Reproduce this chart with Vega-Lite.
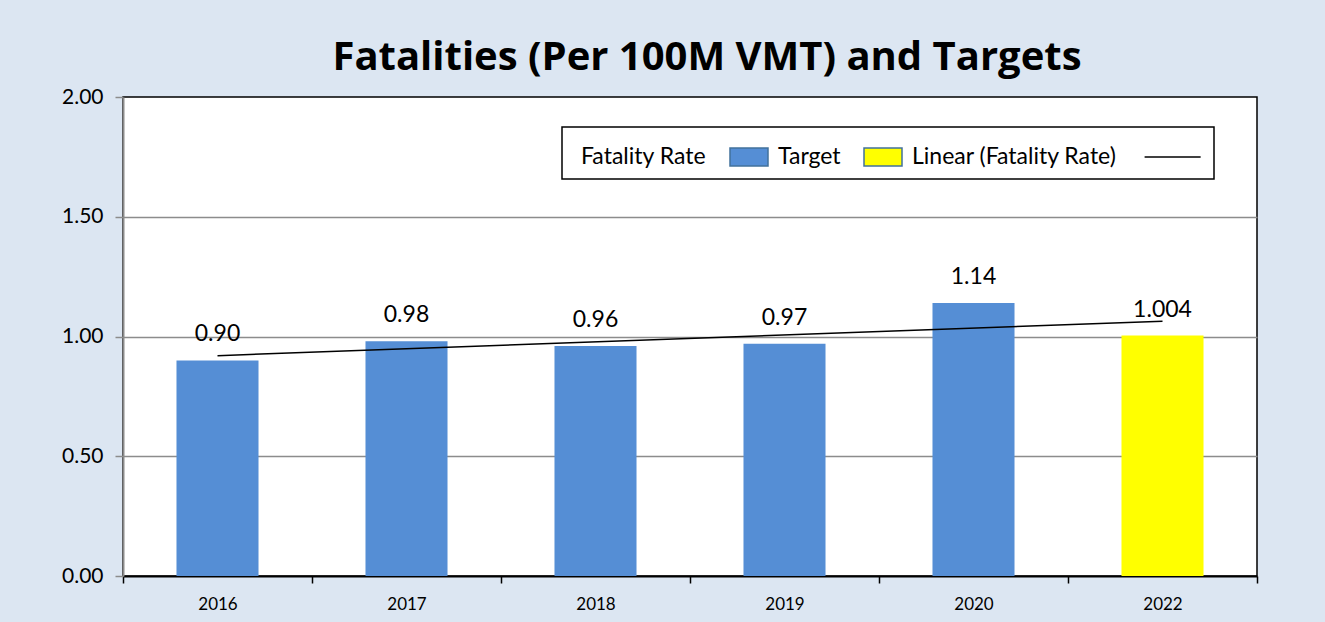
{
  "$schema": "https://vega.github.io/schema/vega-lite/v6.json",
  "width": 1134,
  "height": 479,
  "autosize": {"type": "none"},
  "padding": {"left": 123, "top": 97, "right": 68, "bottom": 46},
  "background": "#dce6f2",
  "config": {
    "view": {"stroke": "#000000", "strokeWidth": 1.5, "fill": "#ffffff"},
    "font": "Lato"
  },
  "title": {
    "text": "Fatalities (Per 100M VMT) and Targets",
    "fontSize": 40,
    "fontWeight": "bold",
    "font": "Open Sans",
    "color": "#000000",
    "anchor": "middle",
    "dx": 17,
    "offset": 8
  },
  "datasets": {
    "bars": [
      {"year": "2016", "value": 0.90, "label": "0.90", "series": "Target"},
      {"year": "2017", "value": 0.98, "label": "0.98", "series": "Target"},
      {"year": "2018", "value": 0.96, "label": "0.96", "series": "Target"},
      {"year": "2019", "value": 0.97, "label": "0.97", "series": "Target"},
      {"year": "2020", "value": 1.14, "label": "1.14", "series": "Target"},
      {"year": "2022", "value": 1.004, "label": "1.004", "series": "Linear (Fatality Rate)"}
    ],
    "trend": [
      {"year": "2016", "trend": 0.92},
      {"year": "2022", "trend": 1.064}
    ]
  },
  "encoding": {
    "x": {
      "field": "year",
      "type": "nominal",
      "scale": {"type": "band", "paddingInner": 0, "paddingOuter": 0, "domain": ["2016", "2017", "2018", "2019", "2020", "2022"]},
      "axis": {
        "title": null,
        "labelAngle": 0,
        "labelFontSize": 17,
        "labelColor": "#000000",
        "labelPadding": 13,
        "tickBand": "extent",
        "tickSize": 7,
        "tickColor": "#000000",
        "tickWidth": 1.5,
        "domainColor": "#000000",
        "domainWidth": 2,
        "grid": false
      }
    }
  },
  "layer": [
    {
      "data": {"name": "bars"},
      "mark": {"type": "bar", "width": {"band": 0.434}},
      "encoding": {
        "y": {
          "field": "value",
          "type": "quantitative",
          "scale": {"domain": [0, 2], "nice": false},
          "axis": {
            "title": null,
            "values": [0, 0.5, 1, 1.5, 2],
            "format": ".2f",
            "labelFontSize": 21,
            "labelColor": "#000000",
            "labelPadding": 12,
            "tickSize": 8,
            "tickColor": "#8c8c8c",
            "tickWidth": 1.5,
            "domainColor": "#8c8c8c",
            "domainWidth": 2,
            "grid": true,
            "gridWidth": 1.5,
            "gridColor": {"condition": {"test": "datum.value == 0 || datum.value == 2", "value": "transparent"}, "value": "#8c8c8c"}
          }
        },
        "color": {
          "field": "series",
          "type": "nominal",
          "scale": {
            "domain": ["Fatality Rate", "Target", "Linear (Fatality Rate)", "_line"],
            "range": ["transparent", "#558ed5", "#ffff00", "#000000"]
          },
          "legend": {
            "orient": "none",
            "legendX": 439,
            "legendY": 30,
            "direction": "horizontal",
            "title": null,
            "fillColor": "#ffffff",
            "strokeColor": "#000000",
            "padding": 10,
            "labelFontSize": 23,
            "labelFont": "Lato",
            "labelColor": "#000000",
            "labelLimit": 400,
            "labelOffset": 10,
            "columnPadding": 20,
            "symbolSize": 1444,
            "symbolType": "M-1,-0.47H1V0.47H-1Z",
            "labelExpr": "datum.label == '_line' ? '' : datum.label",
            "encode": {
              "legend": {
                "update": {"strokeWidth": {"value": 1.5}}
              },
              "symbols": {
                "update": {
                  "shape": {"signal": "datum.value == '_line' ? 'M-0.6,0H2.35' : 'M-1,-0.47H1V0.47H-1Z'"},
                  "stroke": {"signal": "datum.value == '_line' ? '#000000' : (datum.value == 'Fatality Rate' ? 'transparent' : '#41719c')"},
                  "size": {"signal": "datum.value == 'Fatality Rate' ? 0 : 1444"},
                  "x": {"value": 19}
                }
              },
              "labels": {
                "update": {
                  "x": {"signal": "datum.value == 'Fatality Rate' ? 9 : 48"}
                }
              }
            }
          }
        }
      }
    },
    {
      "data": {"name": "bars"},
      "mark": {"type": "text", "dy": -26, "fontSize": 23, "font": "Lato", "color": "#000000"},
      "encoding": {
        "y": {"field": "value", "type": "quantitative"},
        "text": {"field": "label", "type": "nominal"}
      }
    },
    {
      "data": {"name": "trend"},
      "mark": {"type": "line", "color": "#000000", "strokeWidth": 1.5},
      "encoding": {
        "y": {"field": "trend", "type": "quantitative"}
      }
    }
  ]
}
